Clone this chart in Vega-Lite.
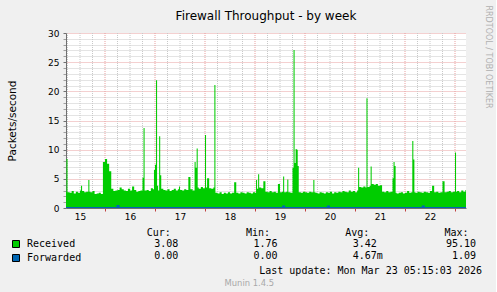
{
  "$schema": "https://vega.github.io/schema/vega-lite/v6.json",
  "background": "#f0f0f0",
  "padding": {"left": 7, "top": 4, "right": 5, "bottom": 5},
  "spacing": 6,
  "resolve": {"scale": {"color": "independent"}, "legend": {"color": "independent"}},
  "config": {
    "font": "DejaVu Sans",
    "view": {"stroke": null},
    "axis": {"labelFont": "DejaVu Sans", "titleFont": "DejaVu Sans", "labelColor": "#000", "titleColor": "#000"}
  },
  "title": {"text": "Munin 1.4.5", "orient": "bottom", "anchor": "middle", "font": "DejaVu Sans", "fontSize": 8.4, "fontWeight": "normal", "color": "#a8a8a8", "offset": 3},
  "datasets": {
    "vgrid": [
      {"g":6},{"g":12},{"g":18},{"g":24},{"g":30},{"g":36},{"g":42},{"g":48},{"g":54},{"g":60},{"g":66},{"g":72},{"g":78},{"g":84},{"g":90},{"g":96},
      {"g":102},{"g":108},{"g":114},{"g":120},{"g":126},{"g":132},{"g":138},{"g":144},{"g":150},{"g":156},{"g":162},{"g":168},{"g":174},{"g":180},{"g":186},{"g":192}
    ],
    "rx": [
      {"h":5,"v":2.8},{"h":5.5,"v":8.4},{"h":6,"v":2.7},{"h":7,"v":2.6},{"h":8,"v":2.9},{"h":9,"v":2.5},{"h":10,"v":2.8},{"h":11,"v":2.6},{"h":12,"v":3.0},{"h":12.5,"v":3.8},
      {"h":13,"v":2.9},{"h":14,"v":2.7},{"h":15,"v":2.8},{"h":16,"v":4.8},{"h":16.5,"v":2.8},{"h":17,"v":2.7},{"h":18,"v":2.9},{"h":19,"v":2.4},{"h":20,"v":2.5},{"h":21,"v":2.6},
      {"h":22,"v":2.4},{"h":23,"v":7.9},{"h":24,"v":8.4},{"h":25,"v":7.6},{"h":26,"v":6.3},{"h":27,"v":3.3},{"h":28,"v":2.9},{"h":29,"v":3.0},{"h":30,"v":3.1},{"h":31,"v":3.5},
      {"h":32,"v":3.2},{"h":33,"v":3.0},{"h":34,"v":2.9},{"h":35,"v":3.3},{"h":36,"v":3.0},{"h":37,"v":3.7},{"h":38,"v":3.1},{"h":39,"v":2.8},{"h":40,"v":2.9},{"h":41,"v":3.0},
      {"h":42,"v":5.2},{"h":42.5,"v":13.7},{"h":43,"v":3.0},{"h":44,"v":3.1},{"h":45,"v":2.9},{"h":46,"v":3.4},{"h":47,"v":3.2},{"h":47.5,"v":6.5},{"h":48,"v":7.4},{"h":48.5,"v":21.9},
      {"h":49,"v":3.8},{"h":49.5,"v":3.0},{"h":50,"v":12.3},{"h":50.5,"v":5.6},{"h":51,"v":3.3},{"h":52,"v":3.1},{"h":53,"v":3.0},{"h":54,"v":3.2},{"h":55,"v":2.9},{"h":56,"v":3.1},
      {"h":57,"v":3.3},{"h":58,"v":3.0},{"h":59,"v":3.2},{"h":59.5,"v":3.7},{"h":60,"v":3.1},{"h":61,"v":3.0},{"h":62,"v":3.2},{"h":63,"v":3.1},{"h":64,"v":5.3},{"h":65,"v":3.2},
      {"h":66,"v":3.0},{"h":67,"v":7.9},{"h":67.5,"v":6.9},{"h":68,"v":10.2},{"h":68.5,"v":3.5},{"h":69,"v":3.3},{"h":70,"v":3.6},{"h":71,"v":3.4},{"h":72,"v":12.5},{"h":72.5,"v":3.5},
      {"h":73,"v":5.1},{"h":74,"v":3.4},{"h":75,"v":3.3},{"h":76,"v":3.5},{"h":76.5,"v":21.1},{"h":77,"v":2.6},{"h":78,"v":2.5},{"h":79,"v":2.7},{"h":80,"v":2.4},{"h":81,"v":2.6},
      {"h":82,"v":2.5},{"h":83,"v":2.7},{"h":84,"v":2.5},{"h":85,"v":2.6},{"h":86,"v":4.4},{"h":87,"v":2.6},{"h":88,"v":2.5},{"h":89,"v":2.7},{"h":90,"v":2.6},{"h":91,"v":2.5},
      {"h":92,"v":2.7},{"h":93,"v":2.6},{"h":94,"v":2.5},{"h":95,"v":2.7},{"h":96,"v":2.6},{"h":96.5,"v":4.8},{"h":97,"v":3.3},{"h":97.5,"v":5.8},{"h":98,"v":3.5},{"h":99,"v":3.4},
      {"h":100,"v":4.6},{"h":101,"v":2.8},{"h":102,"v":2.7},{"h":103,"v":2.9},{"h":104,"v":2.7},{"h":105,"v":2.8},{"h":106,"v":2.6},{"h":107,"v":4.1},{"h":108,"v":2.7},{"h":109,"v":2.8},
      {"h":109.5,"v":5.4},{"h":110,"v":2.7},{"h":111,"v":2.8},{"h":111.5,"v":4.9},{"h":112,"v":2.7},{"h":113,"v":2.6},{"h":114,"v":6.9},{"h":114.5,"v":27.1},{"h":115,"v":7.7},{"h":115.5,"v":10.1},
      {"h":116,"v":10.0},{"h":116.5,"v":7.2},{"h":117,"v":2.7},{"h":118,"v":2.6},{"h":119,"v":2.8},{"h":120,"v":2.7},{"h":121,"v":2.6},{"h":122,"v":2.8},{"h":123,"v":2.7},{"h":124,"v":4.8},
      {"h":124.5,"v":2.7},{"h":125,"v":2.6},{"h":126,"v":2.5},{"h":127,"v":2.7},{"h":128,"v":2.6},{"h":129,"v":2.5},{"h":130,"v":2.7},{"h":131,"v":2.6},{"h":132,"v":2.8},{"h":133,"v":2.5},
      {"h":134,"v":2.7},{"h":135,"v":2.6},{"h":136,"v":2.8},{"h":137,"v":2.7},{"h":138,"v":2.9},{"h":139,"v":2.8},{"h":140,"v":2.7},{"h":141,"v":3.0},{"h":142,"v":2.8},{"h":143,"v":2.9},
      {"h":144,"v":2.7},{"h":145,"v":3.0},{"h":145.5,"v":6.9},{"h":146,"v":3.6},{"h":147,"v":3.5},{"h":148,"v":3.7},{"h":149,"v":3.5},{"h":149.5,"v":18.8},{"h":150,"v":3.6},{"h":151,"v":3.8},
      {"h":151.5,"v":7.1},{"h":152,"v":4.1},{"h":153,"v":4.0},{"h":154,"v":4.1},{"h":155,"v":3.8},{"h":156,"v":3.9},{"h":157,"v":2.8},{"h":158,"v":2.7},{"h":159,"v":2.9},{"h":160,"v":2.7},
      {"h":161,"v":2.8},{"h":162,"v":5.1},{"h":162.5,"v":7.9},{"h":163,"v":7.2},{"h":163.5,"v":2.6},{"h":164,"v":2.5},{"h":165,"v":2.6},{"h":166,"v":2.7},{"h":167,"v":2.5},{"h":168,"v":2.6},
      {"h":169,"v":2.9},{"h":170,"v":2.6},{"h":171,"v":2.7},{"h":171.5,"v":11.5},{"h":172,"v":8.3},{"h":172.5,"v":2.7},{"h":173,"v":2.6},{"h":174,"v":2.8},{"h":175,"v":2.7},{"h":176,"v":2.6},
      {"h":177,"v":2.8},{"h":178,"v":2.7},{"h":179,"v":2.6},{"h":180,"v":2.9},{"h":181,"v":3.8},{"h":182,"v":2.7},{"h":183,"v":2.8},{"h":184,"v":2.6},{"h":185,"v":2.7},{"h":186,"v":4.6},
      {"h":187,"v":2.7},{"h":188,"v":2.8},{"h":189,"v":2.9},{"h":190,"v":2.7},{"h":191,"v":2.8},{"h":192,"v":9.5},{"h":192.5,"v":2.8},{"h":193,"v":2.9},{"h":194,"v":2.7},{"h":195,"v":3.0},
      {"h":196,"v":2.8},{"h":197,"v":3.08},{"h":198,"v":3.08}
    ],
    "fw": [
      {"h":5,"f":0},{"h":30,"f":0.35},{"h":30.5,"f":0},{"h":109.5,"f":0.25},{"h":110,"f":0},{"h":131,"f":0.25},{"h":131.5,"f":0},{"h":176.5,"f":0.25},{"h":177,"f":0},{"h":198,"f":0}
    ],
    "stats": [
      {"series":"Received","stat":"Cur","num":"3.08","unit":""},
      {"series":"Received","stat":"Min","num":"1.76","unit":""},
      {"series":"Received","stat":"Avg","num":"3.42","unit":""},
      {"series":"Received","stat":"Max","num":"95.10","unit":""},
      {"series":"Forwarded","stat":"Cur","num":"0.00","unit":""},
      {"series":"Forwarded","stat":"Min","num":"0.00","unit":""},
      {"series":"Forwarded","stat":"Avg","num":"4.67","unit":"m"},
      {"series":"Forwarded","stat":"Max","num":"1.09","unit":""}
    ]
  },
  "vconcat": [
    {
      "width": 400,
      "height": 175,
      "view": {"fill": "#ffffff", "stroke": null},
      "title": {"text": "Firewall Throughput - by week", "font": "DejaVu Sans", "fontSize": 12, "fontWeight": "normal", "color": "#000", "anchor": "middle", "baseline": "alphabetic", "offset": -27},
      "resolve": {"axis": {"x": "independent", "y": "independent"}},
      "layer": [
        {
          "data": {"name": "vgrid"},
          "mark": {"type": "rule", "strokeDash": [1, 1], "strokeWidth": 1},
          "encoding": {
            "x": {"field": "g", "type": "quantitative", "axis": null},
            "color": {"condition": {"test": "datum.g % 24 == 0", "value": "#e8a0a0"}, "value": "#c8c8c8"}
          }
        },
        {
          "data": {"name": "rx"},
          "mark": {"type": "area", "interpolate": "step-after", "color": "#00cc00", "clip": true},
          "encoding": {
            "x": {"field": "h", "type": "quantitative",
              "scale": {"domain": [5.28, 197.28], "nice": false, "zero": false},
              "axis": {"title": null, "values": [6,12,18,24,30,36,42,48,54,60,66,72,78,84,90,96,102,108,114,120,126,132,138,144,150,156,162,168,174,180,186,192],
                "labelExpr": "datum.value % 24 == 12 ? '' + (15 + floor(datum.value / 24)) : ''",
                "labelFontSize": 9, "labelPadding": 1, "labelFlush": false, "labelOverlap": false,
                "tickSize": 3, "tickColor": {"condition": {"test": "datum.value % 24 == 0", "value": "#c04040"}, "value": "transparent"},
                "domainColor": "#707070",
                "grid": false}},
            "y": {"field": "v", "type": "quantitative",
              "scale": {"domain": [0, 30], "nice": false},
              "axis": {"title": "Packets/second", "titleFontSize": 10.5, "titleFontWeight": "normal", "titlePadding": 30,
                "values": [0,1,2,3,4,5,6,7,8,9,10,11,12,13,14,15,16,17,18,19,20,21,22,23,24,25,26,27,28,29,30],
                "labelExpr": "datum.value % 5 == 0 ? datum.label : ''",
                "labelFontSize": 9, "labelPadding": 4, "labelOverlap": false, "labelFlush": false,
                "tickSize": 3, "tickColor": {"condition": {"test": "datum.value % 5 == 0", "value": "#707070"}, "value": "#a0a0a0"},
                "domainColor": "#707070",
                "grid": true, "gridDash": [1, 1],
                "gridColor": {"condition": {"test": "datum.value % 5 == 0", "value": "#e8a0a0"}, "value": "#c8c8c8"}}}
          }
        },
        {
          "data": {"name": "fw"},
          "mark": {"type": "line", "interpolate": "step-after", "color": "#0066b3", "strokeWidth": 2, "clip": true},
          "encoding": {
            "x": {"field": "h", "type": "quantitative", "axis": null},
            "y": {"field": "f", "type": "quantitative",
              "scale": {"domain": [0, 30], "nice": false},
              "axis": {"orient": "right", "labels": false, "ticks": false, "domain": false, "grid": false,
                "title": "RRDTOOL / TOBI OETIKER", "titleFontSize": 8, "titleFontWeight": "normal", "titleColor": "#b0b0b0",
                "titleAngle": 90, "titleAlign": "left", "titleBaseline": "middle", "titleX": 21, "titleY": -28}}
          }
        }
      ]
    },
    {
      "width": 416,
      "height": 24,
      "data": {"name": "stats"},
      "title": {"text": "Last update: Mon Mar 23 05:15:03 2026", "orient": "bottom", "anchor": "end", "font": "DejaVu Sans Mono", "fontSize": 10, "fontWeight": "normal", "color": "#000", "offset": 2},
      "encoding": {
        "x": {"field": "stat", "type": "ordinal", "sort": ["Cur", "Min", "Avg", "Max"],
          "scale": {"type": "point", "padding": 0.595, "align": 0.95},
          "axis": {"orient": "top", "title": null, "labelExpr": "datum.value + ':'", "labelAlign": "right", "labelOffset": -8,
            "ticks": false, "domain": false, "grid": false, "labelFont": "DejaVu Sans Mono", "labelFontSize": 10, "labelPadding": 1, "labelAngle": 0}},
        "y": {"field": "series", "type": "nominal", "sort": ["Received", "Forwarded"], "scale": {"type": "point", "padding": 0.5}, "axis": null}
      },
      "layer": [
        {
          "mark": {"type": "square", "opacity": 0},
          "encoding": {
            "color": {"field": "series", "type": "nominal",
              "scale": {"domain": ["Received", "Forwarded"], "range": ["#00cc00", "#0066b3"]},
              "legend": {"orient": "none", "legendX": -55, "legendY": 1, "title": null, "symbolType": "square", "symbolSize": 49,
                "symbolStrokeColor": "#000", "symbolStrokeWidth": 1, "symbolOpacity": 1,
                "labelFont": "DejaVu Sans Mono", "labelFontSize": 10, "labelColor": "#000", "labelOffset": 6, "rowPadding": 2, "padding": 0}}
          }
        },
        {
          "mark": {"type": "text", "align": "right", "baseline": "middle", "font": "DejaVu Sans Mono", "fontSize": 10, "color": "#000"},
          "encoding": {"text": {"field": "num"}}
        },
        {
          "mark": {"type": "text", "align": "left", "baseline": "middle", "font": "DejaVu Sans Mono", "fontSize": 10, "color": "#000"},
          "encoding": {"text": {"field": "unit"}}
        }
      ]
    }
  ]
}
